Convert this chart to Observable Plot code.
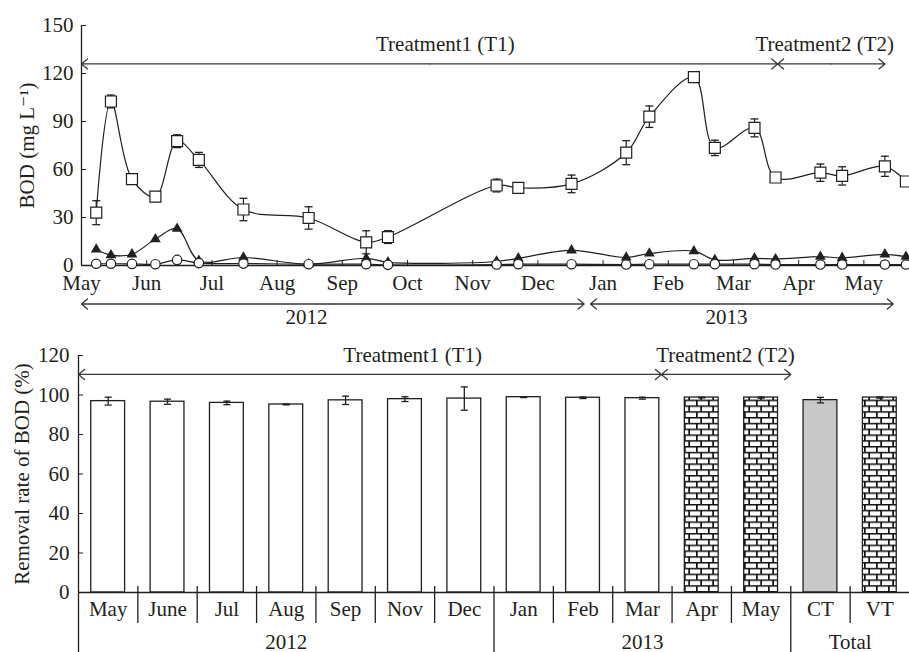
<!DOCTYPE html>
<html>
<head>
<meta charset="utf-8">
<script src="https://cdn.jsdelivr.net/npm/d3@7"></script>
<script src="https://cdn.jsdelivr.net/npm/@observablehq/plot@0.6"></script>
<style>
  body { margin: 0; background: #fff; }
  #chart { width: 909px; }
  #chart svg { display: block; }
</style>
</head>
<body>
<div id="chart"></div>
<script>
// ---- Upper panel: BOD concentrations by sampling date ----
const sampleDates = [
  "2012-05-08", "2012-05-15", "2012-05-25", "2012-06-05", "2012-06-15", "2012-06-25",
  "2012-07-16", "2012-08-16", "2012-09-12", "2012-09-22", "2012-11-12", "2012-11-22",
  "2012-12-17", "2013-01-12", "2013-01-23", "2013-02-12", "2013-02-21", "2013-03-11",
  "2013-03-21", "2013-04-11", "2013-04-21", "2013-05-11", "2013-05-21"
];
const squareBOD = [33, 102.5, 54, 43, 77.7, 66, 35, 29.7, 14.5, 17.8, 50, 48.5,
                   51, 70.5, 93, 117.7, 73.5, 86, 55, 58, 56, 62, 52.5];
const squareErr = [7.5, 4, 2, 2.5, 4, 4.7, 7, 7, 7.2, 4, 4, 2,
                   5.5, 7.5, 6.7, 3, 4.8, 5.6, 0.5, 5.4, 5.7, 6.3, 3];
const triangleBOD = [10, 6.5, 7, 16.5, 23, 3, 5, 0.8, 4.5, 2, 2.5, 4.5,
                     9.5, 5, 7.5, 9, 3.5, 4.5, 4, 5.5, 4.8, 7, 5.5];
const circleBOD = [1.1, 1.1, 1, 0.8, 3.5, 1.5, 1.2, 0.8, 0.8, 0.4, 0.6, 0.8,
                   0.8, 0.6, 0.8, 0.8, 0.8, 0.8, 0.6, 0.6, 0.6, 0.6, 0.6];
const monthLabels = ["May", "Jun", "Jul", "Aug", "Sep", "Oct", "Nov", "Dec",
                     "Jan", "Feb", "Mar", "Apr", "May"];
const bodTicks = [0, 30, 60, 90, 120, 150];

// Treatment periods and year spans (upper panel)
const topTreatments = [
  {label: "Treatment1 (T1)", start: "2012-05-01", end: "2013-03-22", labelAt: "2012-10-19"},
  {label: "Treatment2 (T2)", start: "2013-03-22", end: "2013-05-11", labelAt: "2013-04-13"}
];
const topYears = [
  {label: "2012", start: "2012-05-01", end: "2012-12-23", labelAt: "2012-08-15"},
  {label: "2013", start: "2012-12-26", end: "2013-05-15", labelAt: "2013-02-26"}
];

// ---- Lower panel: monthly BOD removal rate ----
const removalCats = ["May", "June", "Jul", "Aug", "Sep", "Nov", "Dec",
                     "Jan", "Feb", "Mar", "Apr", "May", "CT", "VT"];
const removalRate = [96.9, 96.6, 96.0, 95.2, 97.3, 97.9, 98.2,
                     98.9, 98.6, 98.4, 98.7, 98.7, 97.4, 98.7];
const removalErr = [2.0, 1.3, 0.9, 0.2, 2.1, 1.2, 5.9,
                    0.2, 0.4, 0.5, 0.2, 0.3, 1.4, 0.3];
const removalKind = ["T1", "T1", "T1", "T1", "T1", "T1", "T1",
                     "T1", "T1", "T1", "T2", "T2", "CT", "VT"];
const groupLabels = ["2012", "2013", "Total"];
const groupSizes = [7, 5, 2];
const removalTicks = [0, 20, 40, 60, 80, 100, 120];

// Treatment periods on the category axis (band units)
const barTreatments = [
  {label: "Treatment1 (T1)", start: 0, end: 9.82, labelAt: 5.63},
  {label: "Treatment2 (T2)", start: 9.82, end: 12, labelAt: 10.9}
];

// ---- helpers ----
const FONT = "'Liberation Serif', 'DejaVu Serif', serif";
const INK = "#231f20";
const ARROW = "#3a3a3a";

// fractional months since 1 May 2012 (months drawn evenly spaced)
function monthIndex(s) {
  const [y, m, d] = s.split("-").map(Number);
  const dim = new Date(Date.UTC(y, m, 0)).getUTCDate();
  return (y - 2012) * 12 + (m - 5) + (d - 1) / dim;
}

// horizontal cap for error bars
const capSymbol = {
  draw(context, size) {
    const w = Math.sqrt(size);
    context.moveTo(-w / 2, 0);
    context.lineTo(w / 2, 0);
  }
};

// double-headed arrow = two arrows from the midpoint outward
function doubleArrows(spans, pos) {
  const out = [];
  for (const s of spans) {
    const a = pos(s.start), b = pos(s.end), m = (a + b) / 2;
    out.push({x1: m, x2: a}, {x1: m, x2: b});
  }
  return out;
}

const series = sampleDates.map((d, i) => ({
  t: monthIndex(d),
  sq: squareBOD[i],
  sqErr: squareErr[i],
  tri: triangleBOD[i],
  circ: circleBOD[i]
}));

const arrowStyle = {stroke: ARROW, strokeWidth: 1.3, headLength: 9, headAngle: 80};

const upper = Plot.plot({
  width: 909,
  height: 330,
  marginLeft: 81,
  marginRight: 0,
  marginTop: 25,
  marginBottom: 65,
  style: {fontFamily: FONT, fontSize: "21px", color: INK, background: "white", overflow: "visible"},
  x: {domain: [0, 12.7], axis: null},
  y: {domain: [0, 150], axis: null},
  marks: [
    Plot.axisY({ticks: bodTicks, tickSize: -5, tickPadding: 13, label: null, stroke: INK}),
    Plot.text(["BOD (mg L\u207B\u00B9)"], {frameAnchor: "left", textAnchor: "middle", rotate: -90, dx: -54, fill: INK}),
    Plot.axisX({ticks: d3.range(13), tickSize: -5, tickPadding: 14.5, tickFormat: i => monthLabels[i], label: null, stroke: INK}),
    Plot.ruleX([0], {y1: 150, y2: 0, stroke: INK, strokeWidth: 1.3}),
    Plot.ruleY([0], {stroke: INK, strokeWidth: 1.6}),

    // treatment arrows
    Plot.arrow(doubleArrows(topTreatments, monthIndex), {x1: "x1", x2: "x2", y1: 126, y2: 126, ...arrowStyle}),
    Plot.text(topTreatments, {x: d => monthIndex(d.labelAt), y: 126, dy: -13, text: "label", lineAnchor: "bottom", fill: INK}),

    // year spans below the axis
    Plot.arrow(doubleArrows(topYears, monthIndex), {x1: "x1", x2: "x2", y1: 0, y2: 0, dy: 38.5, ...arrowStyle}),
    Plot.text(topYears, {x: d => monthIndex(d.labelAt), y: 0, dy: 58.5, text: "label", lineAnchor: "bottom", fill: INK}),

    // series lines
    Plot.line(series, {x: "t", y: "tri", curve: "catmull-rom", stroke: INK, strokeWidth: 1.2}),
    Plot.line(series, {x: "t", y: "circ", curve: "catmull-rom", stroke: INK, strokeWidth: 1.2}),
    Plot.line(series, {x: "t", y: "sq", curve: "catmull-rom", stroke: INK, strokeWidth: 1.2}),

    // error bars
    Plot.ruleX(series, {x: "t", y1: d => d.sq - d.sqErr, y2: d => d.sq + d.sqErr, stroke: INK, strokeWidth: 1.2}),
    Plot.dot(series, {x: "t", y: d => d.sq + d.sqErr, symbol: capSymbol, r: 4.5, stroke: INK, fill: "none", strokeWidth: 1.3}),
    Plot.dot(series, {x: "t", y: d => d.sq - d.sqErr, symbol: capSymbol, r: 4.5, stroke: INK, fill: "none", strokeWidth: 1.3}),

    // markers
    Plot.dot(series, {x: "t", y: "tri", symbol: "triangle", r: 4, fill: INK}),
    Plot.dot(series, {x: "t", y: "circ", symbol: "circle", r: 4.7, fill: "white", stroke: INK, strokeWidth: 1.2}),
    Plot.dot(series, {x: "t", y: "sq", symbol: "square", r: 6.2, fill: "white", stroke: INK, strokeWidth: 1.2})
  ]
});

// ---- lower panel ----
const bars = removalCats.map((c, i) => ({i, cat: c, v: removalRate[i], e: removalErr[i], kind: removalKind[i]}));
const groupEdges = d3.cumsum(groupSizes);
const groups = groupLabels.map((g, k) => ({label: g, start: k ? groupEdges[k - 1] : 0, end: groupEdges[k]}));
const innerDividers = d3.range(1, removalCats.length).filter(i => !groupEdges.includes(i));
const groupDividers = groupEdges.filter(i => i < removalCats.length);

const barW = 0.285;
const barOpts = {x1: d => d.i + 0.5 - barW, x2: d => d.i + 0.5 + barW, y1: () => 0, y2: "v", stroke: INK, strokeWidth: 1.3};

const lower = Plot.plot({
  width: 909,
  height: 322,
  marginLeft: 78,
  marginRight: 0,
  marginTop: 25,
  marginBottom: 60,
  style: {fontFamily: FONT, fontSize: "21px", color: INK, background: "white", overflow: "visible"},
  x: {domain: [0, removalCats.length], axis: null},
  y: {domain: [0, 120], axis: null},
  marks: [
    Plot.axisY({ticks: removalTicks, tickSize: -5, tickPadding: 14, label: null, stroke: INK}),
    Plot.text(["Removal rate of BOD (%)"], {frameAnchor: "left", textAnchor: "middle", rotate: -90, dx: -56, fill: INK}),

    Plot.rect(bars.filter(d => d.kind === "T1"), {...barOpts, fill: "white"}),
    Plot.rect(bars.filter(d => d.kind === "T2" || d.kind === "VT"), {...barOpts, fill: "url(#brick)"}),
    Plot.rect(bars.filter(d => d.kind === "CT"), {...barOpts, fill: "#c8c8c9"}),

    Plot.ruleX(bars, {x: d => d.i + 0.5, y1: d => d.v - d.e, y2: d => d.v + d.e, stroke: INK, strokeWidth: 1.3}),
    Plot.dot(bars, {x: d => d.i + 0.5, y: d => d.v + d.e, symbol: capSymbol, r: 4, stroke: INK, fill: "none", strokeWidth: 1.3}),
    Plot.dot(bars, {x: d => d.i + 0.5, y: d => d.v - d.e, symbol: capSymbol, r: 4, stroke: INK, fill: "none", strokeWidth: 1.3}),

    // axes and category dividers
    Plot.ruleX([0], {y1: 120, y2: 0, insetBottom: -60, stroke: INK, strokeWidth: 1.3}),
    Plot.ruleY([0], {stroke: INK, strokeWidth: 1.5}),
    Plot.ruleX(innerDividers, {y1: 0, y2: 0, insetTop: -6, insetBottom: -31, stroke: INK, strokeWidth: 1.3}),
    Plot.ruleX(groupDividers, {y1: 0, y2: 0, insetTop: -6, insetBottom: -60, stroke: INK, strokeWidth: 1.3}),
    Plot.text(bars, {x: d => d.i + 0.5, y: 0, dy: 23.5, text: "cat", lineAnchor: "bottom", fill: INK}),
    Plot.text(groups, {x: d => (d.start + d.end) / 2, y: 0, dy: 56, text: "label", lineAnchor: "bottom", fill: INK}),

    // treatment arrows
    Plot.arrow(doubleArrows(barTreatments, v => v), {x1: "x1", x2: "x2", y1: 110.4, y2: 110.4, ...arrowStyle}),
    Plot.text(barTreatments, {x: "labelAt", y: 110.4, dy: -12, text: "label", lineAnchor: "bottom", fill: INK})
  ]
});

// brick fill used by the treatment-2 and VT bars
d3.select(lower).insert("defs", ":first-child").html(`
  <pattern id="brick" patternUnits="userSpaceOnUse" width="12" height="11.6">
    <rect width="12" height="11.6" fill="#111"/>
    <rect x="1.7" y="1.5" width="10.3" height="4.3" fill="#fff"/>
    <rect x="0" y="7.3" width="4.3" height="4.3" fill="#fff"/>
    <rect x="6" y="7.3" width="6" height="4.3" fill="#fff"/>
  </pattern>`);

const chart = document.getElementById("chart");
chart.append(upper, lower);
</script>
</body>
</html>
